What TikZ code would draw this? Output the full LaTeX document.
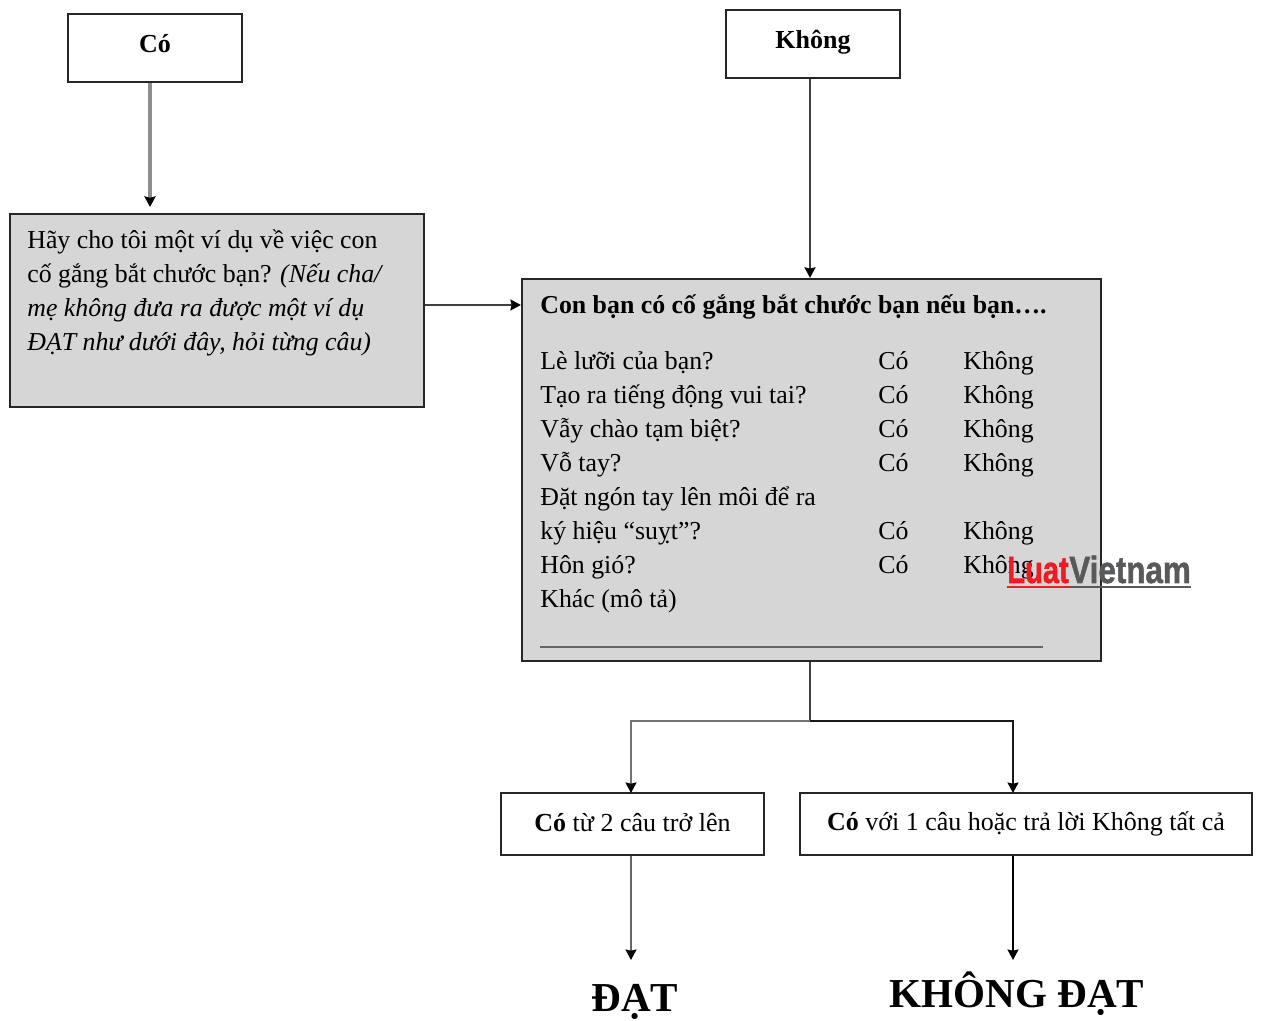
\documentclass[tikz,border=0pt]{standalone}
\usepackage{fontspec}
\setmainfont{Liberation Serif}
\newfontfamily\marksans[FakeBold=1.5]{Liberation Sans Bold}
\usetikzlibrary{arrows.meta}
\definecolor{boxgray}{RGB}{214,214,214}
\definecolor{markred}{RGB}{237,28,36}
\definecolor{markgray}{RGB}{88,89,91}
\tikzset{
	plainbox/.style={draw=black!85, line width=0.035cm, fill=white, inner sep=0, font=\fontsize{14.8pt}{19pt}\selectfont},
	graybox/.style={plainbox, fill=boxgray, line width=0.045cm},
	rowtext/.style={anchor=base west, inner sep=0, font=\fontsize{14.7pt}{19pt}\selectfont},
	marktext/.style={anchor=base west, inner sep=0, font=\marksans\fontsize{21.5pt}{24pt}\selectfont},
	resulttext/.style={anchor=base, inner sep=0, font=\fontsize{23.4pt}{26pt}\selectfont\bfseries},
	link/.style={-{Stealth[black, length=0.21cm, width=0.22cm, inset=0.025cm]}, black!75, line width=0.035cm},
	thicklink/.style={link, black!45, line width=0.07cm}
}
\begin{document}
\begin{tikzpicture}
	\useasboundingbox (0,0) rectangle (25.22,20.42);

	\node[plainbox, minimum width=3.48cm, minimum height=1.36cm] (co) at (3.1,19.46) {\raisebox{0.2cm}{\textbf{Có}}};
	\node[plainbox, minimum width=3.48cm, minimum height=1.36cm] (khong) at (16.26,19.54) {\raisebox{0.2cm}{\textbf{Không}}};
	\node[graybox, minimum width=8.28cm, minimum height=3.86cm] (ask) at (4.34,14.21) {};
	\node[graybox, minimum width=11.58cm, minimum height=7.64cm] (main) at (16.23,11.02) {};
	\node[plainbox, minimum width=5.26cm, minimum height=1.24cm] (dat) at (12.65,3.94) {\raisebox{0.06cm}{\textbf{Có} từ 2 câu trở lên}};
	\node[plainbox, minimum width=9.04cm, minimum height=1.24cm] (kd) at (20.52,3.94) {\raisebox{0.06cm}{\textbf{Có} với 1 câu hoặc trả lời Không tất cả}};

	\node[rowtext] (ask1) at (0.54,15.44) {Hãy cho tôi một ví dụ về việc con};
	\node[rowtext] (ask2) at (0.54,14.76) {cố gắng bắt chước bạn? \textit{(Nếu cha/}};
	\node[rowtext] (ask3) at (0.54,14.08) {\textit{mẹ không đưa ra được một ví dụ}};
	\node[rowtext] (ask4) at (0.54,13.4) {\textit{ĐẠT như dưới đây, hỏi từng câu)}};

	\node[rowtext] (head) at (10.8,14.14) {\textbf{Con bạn có cố gắng bắt chước bạn nếu bạn….}};
	\node[rowtext] (q1) at (10.8,13.02) {Lè lưỡi của bạn?};
	\node[rowtext] (q2) at (10.8,12.34) {Tạo ra tiếng động vui tai?};
	\node[rowtext] (q3) at (10.8,11.66) {Vẫy chào tạm biệt?};
	\node[rowtext] (q4) at (10.8,10.98) {Vỗ tay?};
	\node[rowtext] (q5) at (10.8,10.3) {Đặt ngón tay lên môi để ra};
	\node[rowtext] (q6) at (10.8,9.62) {ký hiệu “suỵt”?};
	\node[rowtext] (q7) at (10.8,8.94) {Hôn gió?};
	\node[rowtext] (q8) at (10.8,8.26) {Khác (mô tả)};

	\node[rowtext] (y1) at (17.56,13.02) {Có};
	\node[rowtext] (y2) at (17.56,12.34) {Có};
	\node[rowtext] (y3) at (17.56,11.66) {Có};
	\node[rowtext] (y4) at (17.56,10.98) {Có};
	\node[rowtext] (y6) at (17.56,9.62) {Có};
	\node[rowtext] (y7) at (17.56,8.94) {Có};

	\node[rowtext] (n1) at (19.26,13.02) {Không};
	\node[rowtext] (n2) at (19.26,12.34) {Không};
	\node[rowtext] (n3) at (19.26,11.66) {Không};
	\node[rowtext] (n4) at (19.26,10.98) {Không};
	\node[rowtext] (n6) at (19.26,9.62) {Không};
	\node[rowtext] (n7) at (19.26,8.94) {Không};

	\coordinate (ruleleft) at (10.8,7.48);
	\coordinate (ruleright) at (20.86,7.48);
	\draw[black!60, line width=0.025cm] (ruleleft) -- (ruleright);

	\node[resulttext] (datres) at (12.7,0.18) {ĐẠT};
	\node[resulttext] (kdres) at (20.34,0.26) {KHÔNG ĐẠT};

	\coordinate (coline) at (3,16.28);
	\coordinate (mainin) at (16.2,14.32);
	\coordinate (split) at (16.2,6);
	\coordinate (datin) at (12.62,4.56);
	\coordinate (kdin) at (20.26,4.56);
	\coordinate (datout) at (12.62,1.22);
	\coordinate (kdout) at (20.26,1.22);

	\draw[thicklink] (coline |- co.south) -- (coline);
	\draw[link] (mainin |- khong.south) -- (mainin |- main.north);
	\draw[link] (ask.east |- mainin) -- (main.west |- mainin);
	\draw[black!75, line width=0.04cm] (split |- main.south) -- (split);
	\draw[link, black!55] (split) -| (datin);
	\draw[link, black!90] (split) -| (kdin);
	\draw[link, black!60] (datout |- dat.south) -- (datout);
	\draw[link, black] (kdout |- kd.south) -- (kdout);

	% watermark
	\node[marktext, text=markred] (markleft) at (20.14,8.76) {\scalebox{0.77}[1]{Luat}};
	\node[marktext, text=markgray] (markright) at (21.38,8.76) {\scalebox{0.83}[1]{Vietnam}};
	\draw[markred, line width=0.05cm] (20.14,8.68) -- (21.38,8.68);
	\draw[markgray, line width=0.05cm] (21.38,8.68) -- (23.82,8.68);
\end{tikzpicture}
\end{document}
